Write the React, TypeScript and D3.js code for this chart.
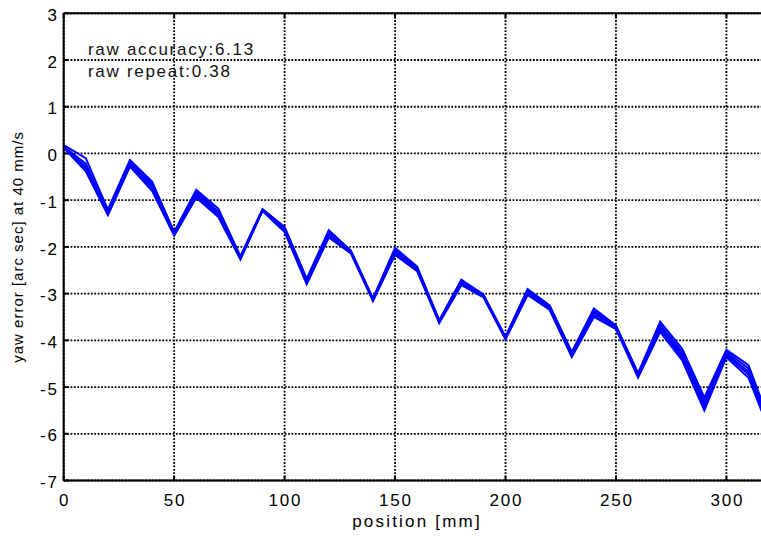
import React from "react";
import * as d3 from "d3";

const positions = [0, 10, 20, 30, 40, 50, 60, 70, 80, 90, 100, 110, 120, 130, 140, 150, 160, 170, 180, 190, 200, 210, 220, 230, 240, 250, 260, 270, 280, 290, 300, 310, 320];

const run1 = [0.18, -0.10, -1.20, -0.14, -0.60, -1.68, -0.78, -1.18, -2.20, -1.19, -1.57, -2.68, -1.64, -2.08, -3.10, -2.02, -2.42, -3.57, -2.70, -3.02, -3.92, -2.90, -3.25, -4.25, -3.32, -3.68, -4.70, -3.60, -4.18, -5.22, -4.20, -4.53, -5.80];
const run2 = [0.15, -0.22, -1.25, -0.18, -0.65, -1.70, -0.82, -1.24, -2.22, -1.20, -1.60, -2.71, -1.68, -2.09, -3.12, -2.06, -2.45, -3.59, -2.73, -3.04, -3.94, -2.93, -3.28, -4.28, -3.37, -3.70, -4.73, -3.66, -4.25, -5.30, -4.24, -4.60, -5.86];
const run3 = [0.14, -0.28, -1.28, -0.21, -0.69, -1.72, -0.86, -1.28, -2.24, -1.21, -1.62, -2.73, -1.72, -2.10, -3.13, -2.10, -2.47, -3.60, -2.76, -3.05, -3.95, -2.96, -3.30, -4.30, -3.41, -3.72, -4.75, -3.71, -4.31, -5.37, -4.28, -4.67, -5.90];
const run4 = [0.13, -0.33, -1.30, -0.25, -0.74, -1.74, -0.90, -1.32, -2.25, -1.22, -1.65, -2.76, -1.76, -2.12, -3.14, -2.14, -2.50, -3.61, -2.79, -3.06, -3.96, -3.00, -3.32, -4.33, -3.46, -3.74, -4.77, -3.76, -4.37, -5.44, -4.32, -4.73, -5.95];
const run5 = [0.12, -0.38, -1.32, -0.28, -0.80, -1.76, -0.95, -1.36, -2.27, -1.23, -1.68, -2.80, -1.80, -2.14, -3.16, -2.17, -2.52, -3.63, -2.82, -3.08, -3.98, -3.03, -3.35, -4.36, -3.50, -3.76, -4.80, -3.82, -4.43, -5.50, -4.36, -4.80, -6.00];
const runs = [run1, run2, run3, run4, run5];

const xTicks = [0, 50, 100, 150, 200, 250, 300];
const yTicks = [3, 2, 1, 0, -1, -2, -3, -4, -5, -6, -7];
const annotations = ["raw accuracy:6.13", "raw repeat:0.38"];
const xLabel = "position [mm]";
const yLabel = "yaw error [arc sec] at 40 mm/s";

const W = 761;
const H = 536;
const L = 63.7;
const R = 770.6;
const T = 13.3;
const B = 480.5;

export default function App() {
  const x = d3.scaleLinear().domain([0, 320]).range([L, R]);
  const y = d3.scaleLinear().domain([-7, 3]).range([B, T]);
  const line = d3
    .line<number>()
    .x((_, i) => x(positions[i]))
    .y((d) => y(d));
  const font = "'Liberation Sans', Arial, sans-serif";
  const grid = { stroke: "#000", strokeWidth: 1.8, strokeDasharray: "1.8,1.6" };
  return (
    <svg
      width={W}
      height={H}
      style={{ position: "absolute", left: 0, top: 0, background: "#fff" }}
      fontFamily={font}
    >
      <rect x={0} y={0} width={W} height={H} fill="#fff" />
      {xTicks.map((t) => (
        <line key={"gx" + t} x1={x(t)} x2={x(t)} y1={T} y2={B} {...grid} />
      ))}
      {yTicks.map((t) => (
        <line key={"gy" + t} x1={L} x2={R} y1={y(t)} y2={y(t)} {...grid} />
      ))}
      {xTicks.map((t) => (
        <g key={"tx" + t}>
          <line x1={x(t)} x2={x(t)} y1={B} y2={B - 5} stroke="#000" strokeWidth={2} />
          <line x1={x(t)} x2={x(t)} y1={T} y2={T + 5} stroke="#000" strokeWidth={2} />
          <text x={x(t) + 0.9} y={506} textAnchor="middle" fontSize={17} letterSpacing={1.8}>
            {t}
          </text>
        </g>
      ))}
      {yTicks.map((t) => (
        <g key={"ty" + t}>
          <line x1={L} x2={L + 5} y1={y(t)} y2={y(t)} stroke="#000" strokeWidth={2} />
          <text x={58.8} y={y(t) + 7.6} textAnchor="end" fontSize={17} letterSpacing={1.8}>
            {t}
          </text>
        </g>
      ))}
      <g>
        {runs.map((r, i) => (
          <path key={"r" + i} d={line(r) || ""} fill="none" stroke="#0000ff" strokeWidth={2} strokeLinejoin="miter" />
        ))}
      </g>
      <line x1={L} x2={R} y1={T} y2={T} stroke="#000" strokeWidth={2} />
      <line x1={L} x2={R} y1={B} y2={B} stroke="#000" strokeWidth={2} />
      <line x1={L} x2={L} y1={T} y2={B} stroke="#000" strokeWidth={2} />
      {annotations.map((a, i) => (
        <text key={a} x={88} y={55 + i * 22} fontSize={17} letterSpacing={1.7} fill="#111">
          {a}
        </text>
      ))}
      <text x={417} y={527} textAnchor="middle" fontSize={17} letterSpacing={2.2}>
        {xLabel}
      </text>
      <text
        transform={`translate(23, ${(T + B) / 2}) rotate(-90)`}
        textAnchor="middle"
        fontSize={15}
        letterSpacing={1}
      >
        {yLabel}
      </text>
    </svg>
  );
}
